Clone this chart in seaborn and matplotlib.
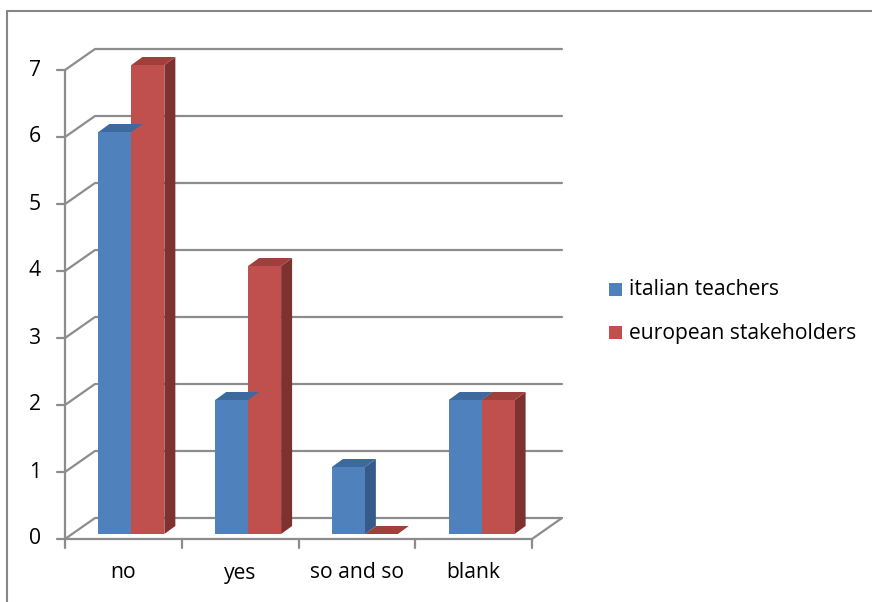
import matplotlib
matplotlib.use("Agg")
import matplotlib.pyplot as plt
from matplotlib.patches import Polygon, Rectangle
from matplotlib.lines import Line2D
import seaborn as sns
import pandas as pd

# Survey answers
categories = ["no", "yes", "so and so", "blank"]
italian_teachers = [6, 2, 1, 2]
european_stakeholders = [7, 4, 0, 2]
series_names = ["italian teachers", "european stakeholders"]
y_ticks = [0, 1, 2, 3, 4, 5, 6, 7]

front_colors = ["#4F81BD", "#C0504D"]
top_colors = ["#3D6A9E", "#A0403D"]
side_colors = ["#355B8A", "#7E3230"]
grid_color = "#8C8C8C"

df = pd.DataFrame({
    "answer": categories * 2,
    "count": italian_teachers + european_stakeholders,
    "group": [series_names[0]] * len(categories) + [series_names[1]] * len(categories),
})

W, H = 872, 602
fig = plt.figure(figsize=(W / 100, H / 100), dpi=100)
sns.set_style("white")
plt.rcParams["font.family"] = ["Open Sans", "DejaVu Sans"]
FS = 15.2

# Front plane of the plot: x -0.5..3.5 -> px 65..532, y 0..7 -> px 539..70
px_l, px_r, px_b, px_t = 65, 532, 539, 70
ax = fig.add_axes([px_l / W, 1 - px_b / H, (px_r - px_l) / W, (px_b - px_t) / H])

ux = (px_r - px_l) / 4.0          # pixels per category unit
uy = (px_b - px_t) / 7.0          # pixels per value unit

# depth offsets (data units)
wall_dx, wall_dy = 30 / ux, 21 / uy      # back wall
bar_dx, bar_dy = 8 / ux, 5 / uy          # bar front face position in depth
side_dx, side_dy = 11 / ux, 8 / uy       # bar depth

sns.barplot(data=df, x="answer", y="count", hue="group", order=categories,
            hue_order=series_names, palette=front_colors, width=0.565,
            dodge=True, gap=0, saturation=1, ax=ax, legend=False,
            linewidth=0, zorder=5)

ax.set_xlim(-0.5, 3.5)
ax.set_ylim(0, 7)
ax.axis("off")

# back wall gridlines with the diagonal connector to the front axis
x0, x1 = -0.5, 3.5
for v in y_ticks:
    ax.add_line(Line2D([x0, x0 + wall_dx, x1 + wall_dx],
                       [v, v + wall_dy, v + wall_dy],
                       color=grid_color, lw=1.6, clip_on=False, zorder=1))
    ax.add_line(Line2D([x0 - 8 / ux, x0], [v, v], color=grid_color, lw=1.6,
                       clip_on=False, zorder=1))
    ax.text(x0 - 24 / ux, v, str(v), ha="right", va="center", fontsize=FS,
            color="#000000", clip_on=False)

# front axis line, floor front edge and floor right edge
ax.add_line(Line2D([x0, x0], [0, 7], color=grid_color, lw=1.6, clip_on=False, zorder=1))
ax.add_line(Line2D([x0, x1], [0, 0], color=grid_color, lw=1.6, clip_on=False, zorder=1))
ax.add_line(Line2D([x1, x1 + wall_dx], [0, wall_dy], color=grid_color, lw=1.6,
                   clip_on=False, zorder=1))
for k in range(len(categories) + 1):
    xk = x0 + k
    ax.add_line(Line2D([xk, xk], [0, -9 / uy], color=grid_color, lw=1.6,
                       clip_on=False, zorder=1))
for i, c in enumerate(categories):
    ax.text(i, -34 / uy, c, ha="center", va="center", fontsize=FS, color="#000000",
            clip_on=False)

# give the bars depth: shift front faces and add top and side faces
n = len(categories)
bars = [p for p in ax.patches if isinstance(p, Rectangle)]
for idx, p in enumerate(bars):
    s = idx // n
    p.set_x(p.get_x() + bar_dx)
    p.set_y(p.get_y() + bar_dy)
    xl, yb = p.get_x(), p.get_y()
    w, h = p.get_width(), p.get_height()
    xr, yt = xl + w, yb + h
    top = Polygon([[xl, yt], [xr, yt], [xr + side_dx, yt + side_dy],
                   [xl + side_dx, yt + side_dy]], closed=True,
                  facecolor=top_colors[s], edgecolor="none", zorder=6 - 0.01 * idx,
                  clip_on=False)
    side = Polygon([[xr, yb], [xr + side_dx, yb + side_dy],
                    [xr + side_dx, yt + side_dy], [xr, yt]], closed=True,
                   facecolor=side_colors[s], edgecolor="none", zorder=4,
                   clip_on=False)
    ax.add_patch(top)
    ax.add_patch(side)
    p.set_clip_on(False)

# legend
for s, name in enumerate(series_names):
    yc = 289 + 43 * s
    fig.patches.append(Rectangle((609 / W, 1 - (yc + 7) / H), 13 / W, 13 / H,
                                 transform=fig.transFigure, facecolor=front_colors[s],
                                 edgecolor="none"))
    fig.text(629 / W, 1 - (yc + 1) / H, name, ha="left", va="center", fontsize=FS,
             color="#000000")

# chart area border (top and left edges)
fig.add_artist(Line2D([7 / W, 1], [1 - 11 / H, 1 - 11 / H], transform=fig.transFigure,
                      color="#868686", lw=1.5))
fig.add_artist(Line2D([7 / W, 7 / W], [1 - 11 / H, 0], transform=fig.transFigure,
                      color="#868686", lw=1.5))

fig.savefig("out.png", dpi=100, facecolor="white")
